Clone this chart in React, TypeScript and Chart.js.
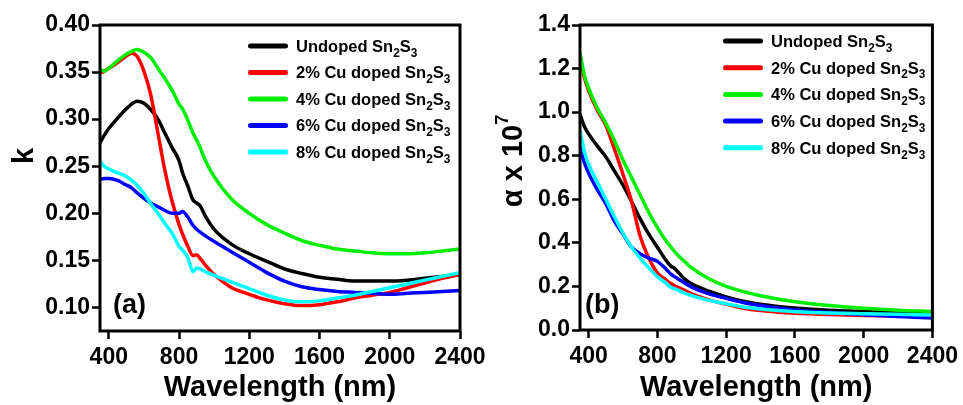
import React, { useEffect, useRef } from "react";
import { Chart, registerables } from "chart.js";

Chart.register(...registerables);

const FONT = "'Liberation Sans', Arial, Helvetica, sans-serif";

// Series names and colours (shared by both panels)
const SERIES_LABELS = [
  "Undoped Sn₂S₃",
  "2% Cu doped Sn₂S₃",
  "4% Cu doped Sn₂S₃",
  "6% Cu doped Sn₂S₃",
  "8% Cu doped Sn₂S₃",
];
const SERIES_COLORS = ["#000000", "#ff0000", "#00ee00", "#0000ff", "#00ffff"];

// Axis ticks
const X_TICKS = [400, 800, 1200, 1600, 2000, 2400];
const K_TICKS = [0.1, 0.15, 0.2, 0.25, 0.3, 0.35, 0.4];
const ALPHA_TICKS = [0, 0.2, 0.4, 0.6, 0.8, 1.0, 1.2, 1.4];

// Panel (a): extinction coefficient k vs wavelength (nm)
const WL_K = [
  350, 375, 400, 450, 500, 530, 560, 600, 640, 680, 720, 760, 800, 820, 850, 880,
  900, 920, 950, 1000, 1100, 1200, 1300, 1400, 1500, 1600, 1700, 1800, 1900, 2000,
  2100, 2200, 2300, 2400,
];
const K_UNDOPED = [
  0.275, 0.283, 0.29, 0.301, 0.311, 0.316, 0.319, 0.317, 0.31, 0.3, 0.285, 0.27, 0.256,
  0.243, 0.229, 0.214, 0.211, 0.208, 0.197, 0.183, 0.167, 0.157, 0.149, 0.141, 0.136,
  0.132, 0.13, 0.128, 0.128, 0.128, 0.129, 0.131, 0.133, 0.135,
];
const K_CU2 = [
  0.349, 0.351, 0.354, 0.36, 0.367, 0.37, 0.367, 0.351, 0.325, 0.285, 0.245, 0.213, 0.188,
  0.178, 0.165, 0.155, 0.156, 0.152, 0.145, 0.135, 0.121, 0.114, 0.108, 0.104, 0.102,
  0.103, 0.106, 0.11, 0.113, 0.116, 0.121, 0.126, 0.131, 0.135,
];
const K_CU4 = [
  0.353, 0.351, 0.354, 0.362, 0.369, 0.372, 0.374, 0.371, 0.365, 0.354, 0.343, 0.331,
  0.316, 0.311, 0.299, 0.285, 0.278, 0.27, 0.256, 0.239, 0.215, 0.2, 0.188, 0.179, 0.171,
  0.166, 0.162, 0.16, 0.158, 0.157, 0.157, 0.158, 0.16, 0.162,
];
const K_CU6 = [
  0.236, 0.237, 0.237, 0.235, 0.23, 0.227, 0.222, 0.216, 0.211, 0.207, 0.203, 0.2, 0.2,
  0.202, 0.196, 0.187, 0.183, 0.18, 0.176, 0.17, 0.159, 0.148, 0.137, 0.128, 0.122,
  0.119, 0.117, 0.116, 0.115, 0.114, 0.115, 0.116, 0.117, 0.118,
];
const K_CU8 = [
  0.255, 0.25, 0.247, 0.243, 0.239, 0.235, 0.23, 0.221, 0.21, 0.2, 0.189, 0.179, 0.165,
  0.161, 0.153, 0.138, 0.142, 0.141, 0.138, 0.134, 0.127, 0.12, 0.113, 0.108, 0.106,
  0.107, 0.11, 0.113, 0.117, 0.121, 0.125, 0.129, 0.133, 0.137,
];

// Panel (b): absorption coefficient alpha (x 10^7) vs wavelength (nm)
const WL_ALPHA = [
  350, 375, 400, 450, 500, 550, 600, 650, 700, 750, 800, 850, 880, 900, 950, 1000, 1100,
  1200, 1300, 1400, 1500, 1600, 1800, 2000, 2200, 2400,
];
const ALPHA_UNDOPED = [
  0.99, 0.935, 0.9, 0.845, 0.795, 0.73, 0.665, 0.59, 0.51, 0.44, 0.38, 0.32, 0.292, 0.283,
  0.24, 0.212, 0.178, 0.152, 0.132, 0.118, 0.108, 0.101, 0.091, 0.085, 0.08, 0.077,
];
const ALPHA_CU2 = [
  1.26, 1.16, 1.1, 1.01, 0.94, 0.83, 0.715, 0.59, 0.43, 0.33, 0.262, 0.23, 0.212, 0.203,
  0.185, 0.166, 0.138, 0.118, 0.1, 0.089, 0.082, 0.077, 0.071, 0.067, 0.064, 0.062,
];
const ALPHA_CU4 = [
  1.27, 1.17, 1.11, 1.02, 0.95, 0.87, 0.78, 0.7, 0.62, 0.54, 0.47, 0.41, 0.38, 0.36, 0.32,
  0.285, 0.235, 0.2, 0.176, 0.157, 0.142, 0.13, 0.112, 0.1, 0.091, 0.085,
];
const ALPHA_CU6 = [
  0.84, 0.77, 0.72, 0.645, 0.58, 0.5, 0.44, 0.38, 0.35, 0.33, 0.315, 0.28, 0.255, 0.245,
  0.22, 0.197, 0.166, 0.145, 0.126, 0.112, 0.101, 0.092, 0.08, 0.07, 0.062, 0.055,
];
const ALPHA_CU8 = [
  0.915, 0.82, 0.76, 0.68, 0.6, 0.52, 0.445, 0.38, 0.33, 0.285, 0.245, 0.215, 0.195, 0.19,
  0.172, 0.158, 0.136, 0.12, 0.106, 0.096, 0.089, 0.084, 0.078, 0.075, 0.072, 0.069,
];

const SUB = "₀₁₂₃₄₅₆₇₈₉";
const SUP = "⁰¹²³⁴⁵⁶⁷⁸⁹";

// Split a label into normal / subscript / superscript runs
function splitRich(s: string) {
  const segs: { kind: number; text: string; w?: number }[] = [];
  for (const ch of s) {
    let kind = 0;
    let c = ch;
    let i = SUB.indexOf(ch);
    if (i >= 0) {
      kind = 1;
      c = String(i);
    } else {
      i = SUP.indexOf(ch);
      if (i >= 0) {
        kind = 2;
        c = String(i);
      }
    }
    const last = segs[segs.length - 1];
    if (last && last.kind === kind) last.text += c;
    else segs.push({ kind, text: c });
  }
  return segs;
}

function drawRich(ctx: CanvasRenderingContext2D, s: string, x: number, y: number, size: number, align: string) {
  const segs = splitRich(s);
  const fontFor = (k: number) =>
    `bold ${k === 1 ? size * 0.72 : k === 2 ? size * 0.62 : size}px ${FONT}`;
  let total = 0;
  for (const seg of segs) {
    ctx.font = fontFor(seg.kind);
    seg.w = ctx.measureText(seg.text).width;
    total += seg.w;
  }
  let cx = align === "center" ? x - total / 2 : x;
  for (const seg of segs) {
    ctx.font = fontFor(seg.kind);
    const dy = seg.kind === 1 ? size * 0.3 : seg.kind === 2 ? -size * 0.5 : 0;
    ctx.fillText(seg.text, cx, y + dy);
    cx += seg.w || 0;
  }
}

// Frame, panel tag, rotated y title and the in-plot legend
const panelDecor = {
  id: "panelDecor",
  afterDatasetsDraw(chart: any) {
    const { ctx, chartArea: a } = chart;
    ctx.save();
    ctx.strokeStyle = "#000";
    ctx.lineWidth = 3;
    ctx.lineJoin = "miter";
    ctx.strokeRect(a.left, a.top, a.right - a.left, a.bottom - a.top);
    ctx.restore();
  },
  afterDraw(chart: any, _args: any, opts: any) {
    const ctx = chart.ctx as CanvasRenderingContext2D;
    ctx.save();
    ctx.fillStyle = "#000";
    ctx.textBaseline = "alphabetic";
    ctx.textAlign = "left";

    ctx.font = `bold 27px ${FONT}`;
    ctx.fillText(opts.tag, opts.tagX, opts.tagY);

    ctx.save();
    ctx.translate(opts.yTitleX, opts.yTitleY);
    ctx.rotate(-Math.PI / 2);
    drawRich(ctx, opts.yTitle, 0, 0, 29, "center");
    ctx.restore();

    chart.data.datasets.forEach((ds: any, i: number) => {
      const y = opts.legendY + i * opts.legendGap;
      ctx.strokeStyle = ds.borderColor;
      ctx.lineWidth = 5;
      ctx.lineCap = "round";
      ctx.beginPath();
      ctx.moveTo(opts.legendX + 2.5, y);
      ctx.lineTo(opts.legendX + 37.5, y);
      ctx.stroke();
      ctx.fillStyle = "#000";
      drawRich(ctx, ds.label, opts.legendTextX, y + 5.8, 16.5, "left");
    });
    ctx.restore();
  },
};

function makeDatasets(wl: number[], series: number[][]) {
  return series.map((vals, i) => ({
    label: SERIES_LABELS[i],
    data: wl.map((w, j) => ({ x: w, y: vals[j] })),
    borderColor: SERIES_COLORS[i],
    backgroundColor: SERIES_COLORS[i],
    borderWidth: 3.5,
    pointRadius: 0,
    cubicInterpolationMode: "monotone" as const,
    borderJoinStyle: "round" as const,
    order: 5 - i,
  }));
}

const tickFont = { family: FONT, size: 23, weight: "bold" as const };

function makeConfig(opts: {
  datasets: any[];
  yMin: number;
  yMax: number;
  yTicks: number[];
  yDigits: number;
  canvasWidth: number;
  plotRight: number;
  xAxisHeight: number;
  decor: any;
}) {
  return {
    type: "line" as const,
    data: { datasets: opts.datasets },
    plugins: [panelDecor],
    options: {
      responsive: false,
      animation: false as const,
      layout: {
        autoPadding: false,
        padding: { left: 0, top: 25, bottom: 0, right: opts.canvasWidth - opts.plotRight },
      },
      plugins: {
        legend: { display: false },
        tooltip: { enabled: false },
        panelDecor: opts.decor,
      },
      scales: {
        x: {
          type: "linear" as const,
          min: 350,
          max: 2400,
          afterFit: (s: any) => {
            s.height = opts.xAxisHeight;
          },
          afterBuildTicks: (s: any) => {
            s.ticks = X_TICKS.map((v) => ({ value: v }));
          },
          ticks: {
            font: tickFont,
            color: "#000",
            padding: 5,
            maxRotation: 0,
            autoSkip: false,
            callback: (v: any) => String(v),
          },
          grid: {
            drawOnChartArea: false,
            drawTicks: true,
            tickLength: 8,
            tickWidth: 2.5,
            tickColor: "#000",
          },
          border: { display: false },
          title: {
            display: true,
            text: "Wavelength (nm)",
            color: "#000",
            font: { family: FONT, size: 29, weight: "bold" as const },
            padding: 0,
          },
        },
        y: {
          type: "linear" as const,
          min: opts.yMin,
          max: opts.yMax,
          afterFit: (s: any) => {
            s.width = 100;
          },
          afterBuildTicks: (s: any) => {
            s.ticks = opts.yTicks.map((v) => ({ value: v }));
          },
          ticks: {
            font: tickFont,
            color: "#000",
            padding: 2,
            autoSkip: false,
            callback: (v: any) => Number(v).toFixed(opts.yDigits),
          },
          grid: {
            drawOnChartArea: false,
            drawTicks: true,
            tickLength: 8,
            tickWidth: 2.5,
            tickColor: "#000",
          },
          border: { display: false },
        },
      },
    },
  };
}

export default function App() {
  const refA = useRef<HTMLCanvasElement | null>(null);
  const refB = useRef<HTMLCanvasElement | null>(null);

  useEffect(() => {
    if (!refA.current || !refB.current) return;

    const chartA = new Chart(
      refA.current,
      makeConfig({
        datasets: makeDatasets(WL_K, [K_UNDOPED, K_CU2, K_CU4, K_CU6, K_CU8]),
        yMin: 0.075,
        yMax: 0.4,
        yTicks: K_TICKS,
        yDigits: 2,
        canvasWidth: 520,
        plotRight: 460,
        xAxisHeight: 74,
        decor: {
          tag: "(a)",
          tagX: 113,
          tagY: 313,
          yTitle: "k",
          yTitleX: 33,
          yTitleY: 156,
          legendX: 248,
          legendY: 46,
          legendGap: 26.5,
          legendTextX: 296,
        },
      }) as any
    );

    const chartB = new Chart(
      refB.current,
      makeConfig({
        datasets: makeDatasets(WL_ALPHA, [ALPHA_UNDOPED, ALPHA_CU2, ALPHA_CU4, ALPHA_CU6, ALPHA_CU8]),
        yMin: 0,
        yMax: 1.4,
        yTicks: ALPHA_TICKS,
        yDigits: 1,
        canvasWidth: 483,
        plotRight: 456,
        xAxisHeight: 75,
        decor: {
          tag: "(b)",
          tagX: 105,
          tagY: 313,
          yTitle: "α x 10⁷",
          yTitleX: 42,
          yTitleY: 161,
          legendX: 243,
          legendY: 41,
          legendGap: 26.7,
          legendTextX: 291,
        },
      }) as any
    );

    return () => {
      chartA.destroy();
      chartB.destroy();
    };
  }, []);

  return (
    <div
      style={{
        position: "fixed",
        left: 0,
        top: 0,
        width: 963,
        height: 405,
        overflow: "hidden",
        background: "#fff",
      }}
    >
      <canvas
        ref={refA}
        width={520}
        height={405}
        style={{ position: "absolute", left: 0, top: 0, width: 520, height: 405 }}
      />
      <canvas
        ref={refB}
        width={483}
        height={405}
        style={{ position: "absolute", left: 480, top: 0, width: 483, height: 405 }}
      />
    </div>
  );
}
